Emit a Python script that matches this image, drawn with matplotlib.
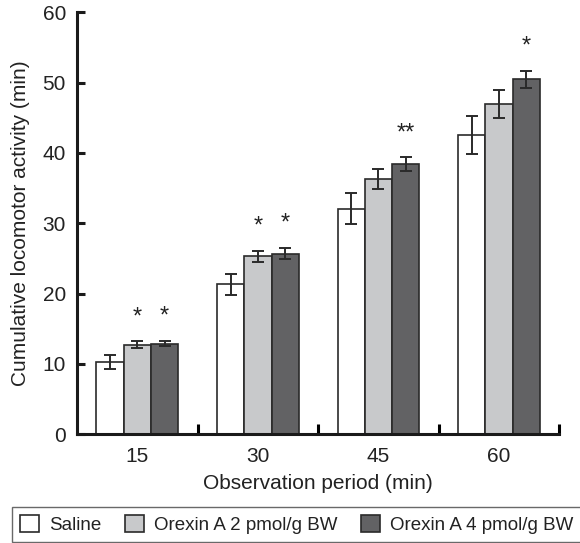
import numpy as np
import matplotlib.pyplot as plt

plt.rcParams['font.family'] = ['Liberation Sans', 'DejaVu Sans']

periods = ['15', '30', '45', '60']
groups = ['Saline', 'Orexin A 2 pmol/g BW', 'Orexin A 4 pmol/g BW']
saline = [10.3, 21.3, 32.1, 42.6]
saline_err = [1.0, 1.5, 2.2, 2.7]
orexin2 = [12.7, 25.3, 36.3, 47.0]
orexin2_err = [0.5, 0.8, 1.4, 2.0]
orexin4 = [12.9, 25.7, 38.4, 50.5]
orexin4_err = [0.4, 0.8, 1.0, 1.2]
# significance marks per group (saline, orexin2, orexin4)
marks = [['', '*', '*'], ['', '*', '*'], ['', '', '**'], ['', '', '*']]

colors = ['white', '#c8c9cb', '#626264']
edge = '#2a2a2a'

my_dpi = 100
fig = plt.figure(figsize=(580 / my_dpi, 543 / my_dpi), dpi=my_dpi)
ax = fig.add_axes([0.1328, 0.2002, 0.8316, 0.7772])

index = np.arange(len(periods))
bar_width = 0.226
series = [(saline, saline_err), (orexin2, orexin2_err), (orexin4, orexin4_err)]

for k, (vals, errs) in enumerate(series):
    pos = index + (k - 1) * bar_width
    ax.bar(pos, vals, bar_width, color=colors[k], edgecolor=edge, linewidth=1.2,
           label=groups[k], zorder=2)
    ax.errorbar(pos, vals, yerr=errs, fmt='none', ecolor=edge, elinewidth=1.4,
                capsize=4, capthick=1.4, zorder=3)
    for i in range(len(periods)):
        if marks[i][k]:
            ax.text(pos[i], vals[i] + errs[i] + 3.4, marks[i][k], ha='center',
                    va='center', fontsize=17, color='#222222')

ax.set_xlim(-0.5, 3.5)
ax.set_ylim(0, 60)
ax.set_yticks([0, 10, 20, 30, 40, 50, 60])
ax.set_xticks(index)
ax.set_xticklabels(periods)
ax.set_xticks(index + 0.5, minor=True)
ax.tick_params(axis='x', which='major', length=0, labelsize=15, pad=9)
ax.tick_params(axis='x', which='minor', direction='in', length=7, width=2.2)
ax.tick_params(axis='y', direction='in', length=6, width=2.2, labelsize=15, pad=8)
ax.tick_params(colors='#1a1a1a', labelcolor='#222222')

for s in ['top', 'right']:
    ax.spines[s].set_visible(False)
for s in ['left', 'bottom']:
    ax.spines[s].set_linewidth(2.2)
    ax.spines[s].set_color('#1a1a1a')

ax.set_xlabel('Observation period (min)', fontsize=15, labelpad=6, color='#222222')
ax.set_ylabel('Cumulative locomotor activity (min)', fontsize=15, labelpad=9, color='#222222')

leg = fig.legend(loc='upper left', bbox_to_anchor=(12 / 580, 1 - 506.5 / 543), ncol=3,
                 fontsize=13.5, handlelength=1.0, handleheight=1.0, handletextpad=0.55,
                 columnspacing=1.25, borderpad=0.45, borderaxespad=0, fancybox=False)
leg.get_frame().set_edgecolor('#444444')
leg.get_frame().set_linewidth(1.0)
for t in leg.get_texts():
    t.set_color('#222222')

plt.savefig('out.png', dpi=my_dpi)
